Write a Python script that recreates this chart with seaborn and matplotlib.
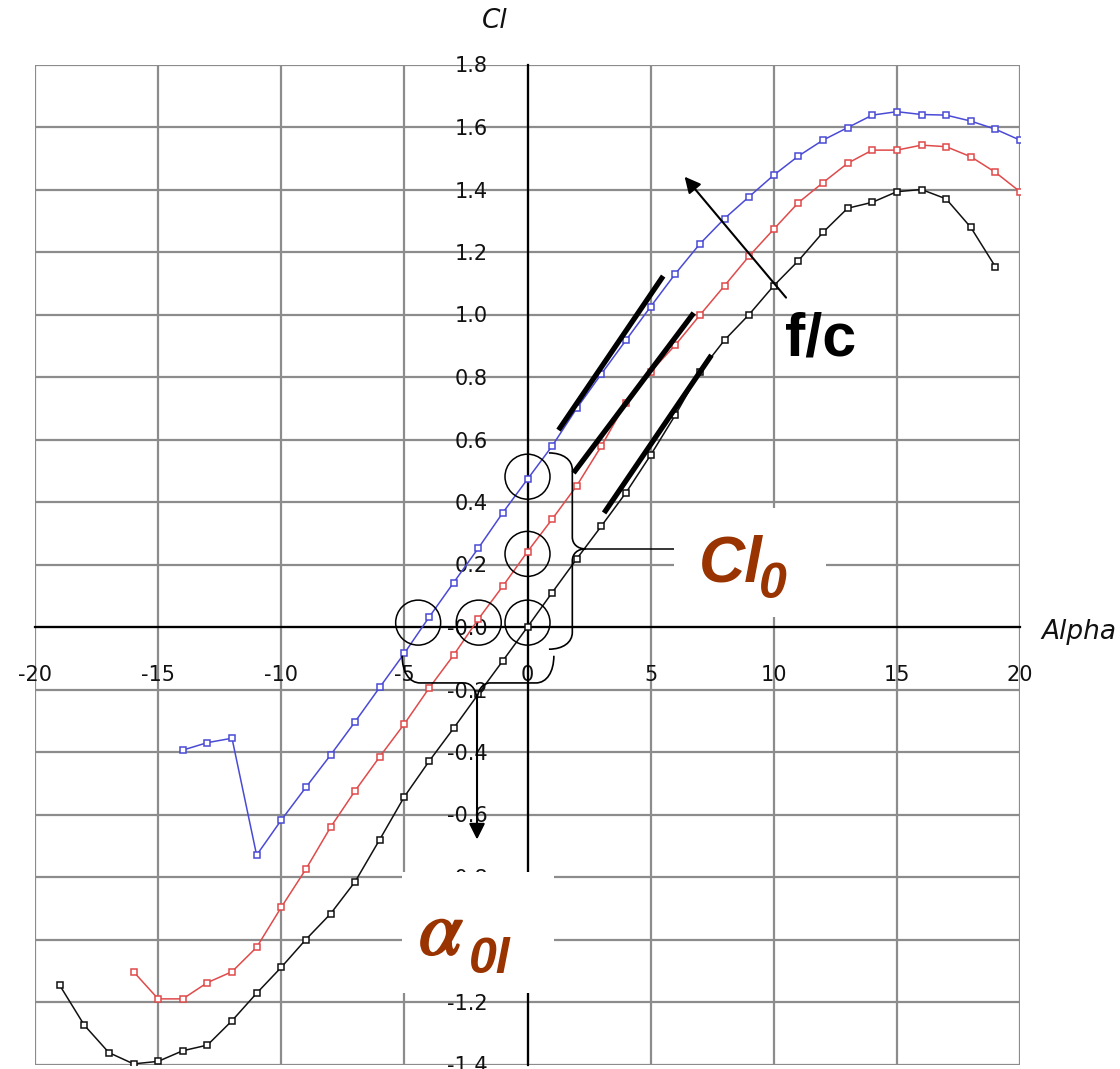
import numpy as np
import pandas as pd
import matplotlib
matplotlib.use("Agg")
import matplotlib.pyplot as plt
import matplotlib.patheffects as pe
import seaborn as sns
from matplotlib.path import Path
from matplotlib.patches import PathPatch, Rectangle, Ellipse

# Lift curves Cl(alpha) for three cambers f/c (symmetric, medium, high)
alpha_sym = list(range(-19, 20))
cl_sym = [-1.146, -1.274, -1.362, -1.398, -1.390, -1.356, -1.338, -1.260, -1.172, -1.089,
          -1.000, -0.918, -0.815, -0.680, -0.543, -0.430, -0.324, -0.215, -0.108, 0.000,
          0.110, 0.218, 0.323, 0.430, 0.550, 0.678, 0.817, 0.918, 1.000, 1.092,
          1.172, 1.263, 1.340, 1.359, 1.393, 1.400, 1.370, 1.279, 1.153]

alpha_mid = list(range(-16, 21))
cl_mid = [-1.103, -1.190, -1.190, -1.138, -1.103, -1.025, -0.897, -0.775, -0.641, -0.524,
          -0.415, -0.310, -0.196, -0.090, 0.025, 0.131, 0.241, 0.345, 0.452, 0.579,
          0.718, 0.817, 0.902, 0.998, 1.092, 1.187, 1.273, 1.358, 1.422, 1.484,
          1.526, 1.526, 1.542, 1.537, 1.505, 1.455, 1.393]

alpha_high = list(range(-14, 21))
cl_high = [-0.394, -0.370, -0.356, -0.730, -0.618, -0.513, -0.410, -0.303, -0.193, -0.084,
           0.031, 0.142, 0.252, 0.366, 0.473, 0.579, 0.700, 0.810, 0.918, 1.025,
           1.130, 1.226, 1.307, 1.377, 1.446, 1.507, 1.558, 1.598, 1.638, 1.649,
           1.640, 1.638, 1.619, 1.593, 1.558]

x_ticks = [-20, -15, -10, -5, 0, 5, 10, 15, 20]
x_tick_labels = ["-20", "-15", "-10", "-5", "0", "5", "10", "15", "20"]
y_ticks = [-1.4, -1.2, -1.0, -0.8, -0.6, -0.4, -0.2, 0.0, 0.2, 0.4, 0.6, 0.8, 1.0, 1.2, 1.4, 1.6, 1.8]
y_tick_labels = ["-1.4", "-1.2", "", "-0.8", "-0.6", "-0.4", "-0.2", "-0.0", "0.2", "0.4",
                 "0.6", "0.8", "1.0", "1.2", "1.4", "1.6", "1.8"]

# Lift-slope guide segments (alpha, Cl) start/end
slope_alpha = [[1.26, 5.51], [1.87, 6.75], [3.11, 7.47]]
slope_cl = [[0.63, 1.123], [0.493, 1.005], [0.365, 0.870]]

# Highlighted points: Cl at alpha = 0 and zero-lift angles
mark_alpha = [0.0, 0.0, -4.44, -1.98, 0.0]
mark_cl = [0.481, 0.234, 0.014, 0.014, 0.014]

series = pd.concat([
    pd.DataFrame({"alpha": alpha_sym, "Cl": cl_sym, "f/c": "sym"}),
    pd.DataFrame({"alpha": alpha_mid, "Cl": cl_mid, "f/c": "mid"}),
    pd.DataFrame({"alpha": alpha_high, "Cl": cl_high, "f/c": "high"}),
])
colors = {"sym": "#111111", "mid": "#e04a4a", "high": "#4a4ad6"}

sns.set_style("white")
plt.rcParams["font.family"] = ["DejaVu Sans"]
plt.rcParams["axes.unicode_minus"] = False

W, H = 1120, 1069
fig = plt.figure(figsize=(W / 100, H / 100), dpi=100)
ax = fig.add_axes([35 / W, (H - 1064.5) / H, 985 / W, 1000 / H])

for key, grp in series.groupby("f/c", sort=False):
    sns.lineplot(data=grp, x="alpha", y="Cl", ax=ax, color=colors[key], lw=1.1,
                 marker="s", markersize=5, markerfacecolor="white",
                 markeredgecolor=colors[key], markeredgewidth=1.1,
                 estimator=None, sort=False, zorder=3)

ax.set_xlim(-20, 20)
ax.set_ylim(-1.4, 1.8)
ax.set_xticks(x_ticks)
ax.set_xticklabels(x_tick_labels)
ax.set_yticks(y_ticks)
ax.set_yticklabels(y_tick_labels)
ax.set_xlabel("")
ax.set_ylabel("")

ax.set_axisbelow(True)
ax.grid(True, color="#8c8c8c", lw=1.6)
for gl in ax.get_xgridlines() + ax.get_ygridlines():
    gl.set_clip_on(False)

for side in ("top", "right"):
    ax.spines[side].set_visible(False)
for side in ("left", "bottom"):
    ax.spines[side].set_position("zero")
    ax.spines[side].set_color("black")
    ax.spines[side].set_linewidth(1.6)

ax.tick_params(axis="both", direction="out", length=13.7, width=1.6, color="black",
               labelsize=15, labelcolor="#111111")
ax.tick_params(axis="x", pad=14)
ax.tick_params(axis="y", pad=15)

# Axis titles
ax.text(-1.34, 1.94, "Cl", fontsize=19, fontstyle="italic", ha="center", va="center",
        color="#111111", clip_on=False)
ax.text(20.85, -0.016, "Alpha", fontsize=19, fontstyle="italic", ha="left", va="center",
        color="#111111", clip_on=False)

# Lift-slope guides
for xs, ys in zip(slope_alpha, slope_cl):
    ax.plot(xs, ys, color="black", lw=3.8, solid_capstyle="butt", zorder=6)

# Circles around the characteristic points
for xa, yc in zip(mark_alpha, mark_cl):
    ax.add_patch(Ellipse((xa, yc), 45 / 24.625, 45 / 312.5, fc="none", ec="black",
                         lw=1.1, zorder=6))


def brace_right(x0, x1, xc, yt, ym, yb, ry_end, ry_mid):
    verts = [(x0, yt),
             (x0 + (x1 - x0) * 0.6, yt), (x1, yt - ry_end * 0.4), (x1, yt - ry_end),
             (x1, ym + ry_mid),
             (x1, ym + ry_mid * 0.4), (xc - (xc - x1) * 0.6, ym), (xc, ym),
             (xc - (xc - x1) * 0.6, ym), (x1, ym - ry_mid * 0.4), (x1, ym - ry_mid),
             (x1, yb + ry_end),
             (x1, yb + ry_end * 0.4), (x0 + (x1 - x0) * 0.6, yb), (x0, yb)]
    codes = [Path.MOVETO] + [Path.CURVE4] * 3 + [Path.LINETO] + [Path.CURVE4] * 6 + \
            [Path.LINETO] + [Path.CURVE4] * 3
    return Path(verts, codes)


def brace_down(xl, xr, xc, ye, ys, yc, rx_end, rx_mid):
    verts = [(xl, ye),
             (xl, ye + (ys - ye) * 0.6), (xl + rx_end * 0.4, ys), (xl + rx_end, ys),
             (xc - rx_mid, ys),
             (xc - rx_mid * 0.4, ys), (xc, ys + (yc - ys) * 0.4), (xc, yc),
             (xc, ys + (yc - ys) * 0.4), (xc + rx_mid * 0.4, ys), (xc + rx_mid, ys),
             (xr - rx_end, ys),
             (xr - rx_end * 0.4, ys), (xr, ye + (ys - ye) * 0.6), (xr, ye)]
    codes = [Path.MOVETO] + [Path.CURVE4] * 3 + [Path.LINETO] + [Path.CURVE4] * 6 + \
            [Path.LINETO] + [Path.CURVE4] * 3
    return Path(verts, codes)


ax.add_patch(PathPatch(brace_right(0.87, 1.82, 2.36, 0.557, 0.25, -0.071, 0.054, 0.038),
                       fc="none", ec="black", lw=1.2, zorder=6))
ax.plot([2.36, 6.5], [0.25, 0.25], color="black", lw=1.1, zorder=4)

ax.add_patch(PathPatch(brace_down(-5.09, 1.07, -2.05, -0.092, -0.179, -0.24, 0.73, 0.53),
                       fc="none", ec="black", lw=1.2, zorder=6))
ax.annotate("", xy=(-2.05, -0.68), xytext=(-2.05, -0.24),
            arrowprops=dict(arrowstyle="-|>", color="black", lw=1.5, mutation_scale=24,
                            shrinkA=0, shrinkB=0), zorder=6)

# Camber arrow
ax.annotate("", xy=(6.38, 1.441), xytext=(10.5, 1.054),
            arrowprops=dict(arrowstyle="-|>", color="black", lw=1.5, mutation_scale=24,
                            shrinkA=0, shrinkB=0), zorder=6)
ax.text(11.9, 0.870, "f/c", fontsize=44, fontweight="bold", family="Liberation Sans",
        ha="center", va="baseline", color="black", zorder=8)

# Label boxes
ax.add_patch(Rectangle((5.93, 0.032), 6.18, 0.349, fc="white", ec="none", zorder=5))
ax.add_patch(Rectangle((-5.09, -1.171), 6.15, 0.387, fc="white", ec="none", zorder=5))

label_color = "#993300"
ax.text(6.95, 0.145, "Cl", fontsize=46, fontweight="bold", fontstyle="italic",
        family="Liberation Sans", ha="left", va="baseline", color=label_color, zorder=8)
ax.text(9.39, 0.093, "0", fontsize=36, fontweight="bold", fontstyle="italic",
        family="Liberation Sans", ha="left", va="baseline", color=label_color, zorder=8)
ax.text(-4.4, -1.049, r"$\alpha$", fontsize=56, math_fontfamily="stix",
        ha="left", va="baseline", color=label_color, zorder=8,
        path_effects=[pe.withStroke(linewidth=1.6, foreground=label_color)])
ax.text(-2.36, -1.107, "0l", fontsize=36, fontweight="bold", fontstyle="italic",
        family="Liberation Sans", ha="left", va="baseline", color=label_color, zorder=8)

fig.savefig("out.png", dpi=100, facecolor="white")
